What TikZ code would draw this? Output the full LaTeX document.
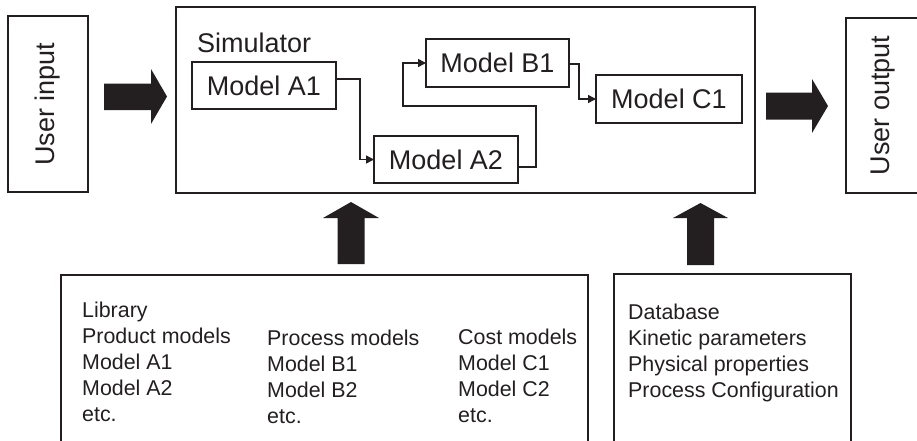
\documentclass[tikz,border=0pt]{standalone}
\usepackage{fontspec}
\setmainfont{Liberation Sans}
\usetikzlibrary{arrows.meta}
\definecolor{ink}{HTML}{231F20}
\begin{document}
\begin{tikzpicture}[x=1pt,y=-1pt,
  box/.style={draw=ink, line width=2pt, outer sep=0pt, inner sep=0pt, text=ink, font=\fontsize{27}{32}\selectfont},
  label/.style={inner sep=0pt, text=ink, font=\fontsize{27}{32}\selectfont},
  conn/.style={draw=ink, line width=1.5pt, -{Triangle[length=8pt,width=8pt]}},
  coltext/.style={anchor=base west, align=left, inner sep=0pt, text=ink, font=\fontsize{21.4}{26}\selectfont},
  fatarrow/.style={fill=ink}]
\useasboundingbox (0,0) rectangle (917,440);
\clip (0,0) rectangle (917,440);
% outer boxes
\node[box, rotate=90, minimum width=176pt, minimum height=80pt] (uin) at (48,104) {User input};
\node[box, minimum width=579pt, minimum height=186pt] (sim) at (465.5,100) {};
\node[box, rotate=90, minimum width=175pt, minimum height=74pt] (uout) at (883,105.5) {User output};
\node[label, anchor=base west] (simlabel) at (197,52) {Simulator};
% model boxes
\node[box, minimum width=144pt, minimum height=47pt] (a1) at (264,85.5) {Model A1};
\node[box, minimum width=144pt, minimum height=47pt] (a2) at (446,159.5) {Model A2};
\node[box, minimum width=143pt, minimum height=48pt] (b1) at (497.5,63) {Model B1};
\node[box, minimum width=146pt, minimum height=48pt] (c1) at (669,99) {Model C1};
% connectors
\draw[conn] ([yshift=6.5pt]a1.east) -- ++(24,0) |- (a2.west);
\draw[conn] ([yshift=-7.5pt]a2.east) -- ++(18,0) -- ++(0,-61) -- ++(-133,0) |- (b1.west);
\draw[conn] ([yshift=-1pt]b1.east) -- ++(10,0) |- (c1.west);
% fat arrows
\fill[fatarrow] (104,83.5) -- (151,83.5) -- (151,69) -- (167,96.5) -- (151,124) -- (151,110) -- (104,110) -- cycle;
\fill[fatarrow] (766,92.5) -- (812,92.5) -- (812,79) -- (828,106) -- (812,133) -- (812,119.5) -- (766,119.5) -- cycle;
\fill[fatarrow] (337.5,264) -- (337.5,218) -- (323,218) -- (351,202) -- (379,218) -- (364.5,218) -- (364.5,264) -- cycle;
\fill[fatarrow] (687,265) -- (687,218) -- (673,218) -- (700.5,203) -- (728,218) -- (714,218) -- (714,265) -- cycle;
% bottom boxes
\node[box, minimum width=527pt, minimum height=172pt] (lib) at (324.5,361) {};
\node[box, minimum width=237pt, minimum height=173pt] (db) at (732.5,360.5) {};
\node[coltext] (libcol) at (82,421) {Library\\Product models\\Model A1\\Model A2\\etc.};
\node[coltext] (proccol) at (267,423.5) {Process models\\Model B1\\Model B2\\etc.};
\node[coltext] (costcol) at (458,422) {Cost models\\Model C1\\Model C2\\etc.};
\node[coltext] (dbcol) at (628,397) {Database\\Kinetic parameters\\Physical properties\\Process Configuration};
\end{tikzpicture}
\end{document}
